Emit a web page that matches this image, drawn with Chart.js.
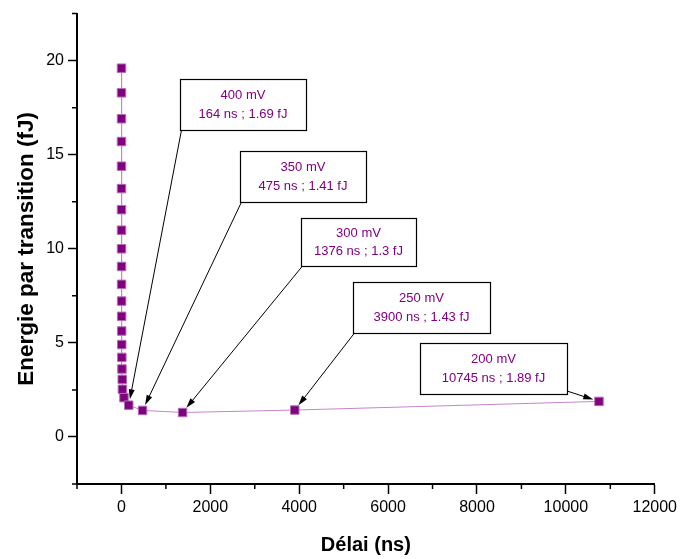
<!DOCTYPE html>
<html>
<head>
<meta charset="utf-8">
<script src="https://cdn.jsdelivr.net/npm/chart.js@4.4.0/dist/chart.umd.min.js"></script>
<style>
html,body{margin:0;padding:0;background:#fff;}
#wrap{width:681px;height:559px;position:relative;}
</style>
</head>
<body>
<div id="wrap"><canvas id="c" width="681" height="559"></canvas></div>
<script>
// ---- data ----
const voltagesMV = [1400,1350,1300,1250,1200,1150,1100,1050,1000,950,900,850,800,750,700,650,600,550,500,450,400,350,300,250,200];
const delaysNs   = [1.0,1.1,1.2,1.3,1.4,1.6,1.8,2.0,2.3,2.7,3.1,3.7,4.4,5.4,6.8,8.9,12,18,22,57,164,475,1376,3900,10745];
const energiesFJ = [19.60,18.29,16.91,15.70,14.39,13.20,12.08,10.99,10.0,9.06,8.11,7.22,6.41,5.63,4.91,4.23,3.61,3.06,2.53,2.09,1.69,1.41,1.3,1.43,1.89];
const calloutVoltages = [400,350,300,250,200];
const xMajorTicks = [0,2000,4000,6000,8000,10000,12000];
const xMinorTicks = [-1000,1000,3000,5000,7000,9000,11000];
const yMajorTicks = [0,5,10,15,20];
const yMinorTicks = [-2.5,2.5,7.5,12.5,17.5,22.5];

// ---- layout of the callout boxes (box top-left anchored in data units) ----
const calloutLayout = [
  {bx:1328, by:19.0,  w:126, h:51, from:'bl'},
  {bx:2678, by:15.19, w:126, h:51, from:'bl'},
  {bx:4035, by:11.65, w:115, h:48, from:'bl'},
  {bx:5212, by:8.23,  w:137, h:51, from:'bl'},
  {bx:6712, by:4.99,  w:147, h:51, from:'br'}
];

const FONT = '"Liberation Sans", Arial, sans-serif';
const PURPLE = '#800080';

const points = delaysNs.map((d,i)=>({x:d, y:energiesFJ[i]}));

const minorTicks = {
  id:'minorTicks',
  afterDraw(chart){
    const {ctx, chartArea:a, scales:{x,y}} = chart;
    ctx.save();
    ctx.strokeStyle='#000'; ctx.lineWidth=1.5;
    ctx.beginPath();
    xMinorTicks.forEach(v=>{
      const px=x.getPixelForValue(v);
      ctx.moveTo(px,a.bottom); ctx.lineTo(px,a.bottom+5);
    });
    yMinorTicks.forEach(v=>{
      const py=y.getPixelForValue(v);
      ctx.moveTo(a.left-5,py); ctx.lineTo(a.left,py);
    });
    ctx.stroke();
    ctx.restore();
  }
};

const callouts = {
  id:'callouts',
  afterDatasetsDraw(chart){
    const {ctx, scales:{x,y}} = chart;
    ctx.save();
    calloutVoltages.forEach((mv,k)=>{
      const L = calloutLayout[k];
      const i = voltagesMV.indexOf(mv);
      const px = x.getPixelForValue(delaysNs[i]);
      const py = y.getPixelForValue(energiesFJ[i]);
      const bx = Math.round(x.getPixelForValue(L.bx));
      const by = Math.round(y.getPixelForValue(L.by));
      // arrow
      const sx = L.from==='bl' ? bx+1.5 : bx+L.w;
      const sy = L.from==='bl' ? by+L.h : by+L.h-3;
      const dx=px-sx, dy=py-sy, len=Math.hypot(dx,dy);
      const ux=dx/len, uy=dy/len;
      const ex=px-ux*6, ey=py-uy*6;
      const hl=10, hw=3;
      ctx.strokeStyle='#000'; ctx.fillStyle='#000'; ctx.lineWidth=1;
      ctx.beginPath(); ctx.moveTo(sx,sy); ctx.lineTo(ex-ux*hl*0.8, ey-uy*hl*0.8); ctx.stroke();
      ctx.beginPath();
      ctx.moveTo(ex,ey);
      ctx.lineTo(ex-ux*hl-uy*hw, ey-uy*hl+ux*hw);
      ctx.lineTo(ex-ux*hl+uy*hw, ey-uy*hl-ux*hw);
      ctx.closePath(); ctx.fill();
      // box
      ctx.fillStyle='#fff'; ctx.fillRect(bx,by,L.w,L.h);
      ctx.strokeStyle='#000'; ctx.lineWidth=1.2;
      ctx.strokeRect(bx+0.5,by+0.5,L.w,L.h);
      // text
      ctx.fillStyle=PURPLE; ctx.font='13px '+FONT;
      ctx.textAlign='center'; ctx.textBaseline='middle';
      const cx=bx+L.w/2, cy=by+L.h/2;
      ctx.fillText(mv+' mV', cx, cy-9);
      ctx.fillText(delaysNs[i]+' ns ; '+energiesFJ[i]+' fJ', cx, cy+9.5);
    });
    ctx.restore();
  }
};

new Chart(document.getElementById('c'), {
  type:'scatter',
  data:{datasets:[{
    data:points,
    showLine:true,
    borderColor:'#c684cc',
    borderWidth:1,
    pointStyle:'rect',
    pointRadius:6,
    pointBackgroundColor:PURPLE,
    pointBorderColor:'#b070b4',
    pointBorderWidth:1,
    tension:0
  }]},
  options:{
    responsive:false,
    devicePixelRatio:1,
    animation:false,
    layout:{padding:{left:0,right:26,top:13,bottom:0}},
    plugins:{legend:{display:false}, tooltip:{enabled:false}},
    scales:{
      x:{
        type:'linear', min:-1000, max:12000,
        afterBuildTicks(s){ s.ticks = xMajorTicks.map(v=>({value:v})); },
        afterFit(s){ s.height = 75; },
        border:{display:true,color:'#000',width:2},
        grid:{drawOnChartArea:false, drawTicks:true, tickLength:10, tickWidth:1.5, tickColor:'#000'},
        ticks:{autoSkip:false, maxRotation:0, padding:4, color:'#000',
          font:{family:FONT,size:16},
          callback:(v)=> String(v)},
        title:{display:true, text:'Délai (ns)', color:'#000', font:{family:FONT,size:20,weight:'bold'}, padding:{top:0,bottom:2}}
      },
      y:{
        type:'linear', min:-2.5, max:22.5,
        afterBuildTicks(s){ s.ticks = yMajorTicks.map(v=>({value:v})); },
        afterFit(s){ s.width = 77; },
        border:{display:true,color:'#000',width:2},
        grid:{drawOnChartArea:false, drawTicks:true, tickLength:9, tickWidth:1.5, tickColor:'#000'},
        ticks:{autoSkip:false, padding:4, color:'#000',
          font:{family:FONT,size:16},
          callback:(v)=> String(v)},
        title:{display:true, text:'Energie par transition (fJ)', color:'#000', font:{family:FONT,size:22.5,weight:'bold'}, padding:{top:13,bottom:0}}
      }
    }
  },
  plugins:[minorTicks, callouts]
});
</script>
</body>
</html>
